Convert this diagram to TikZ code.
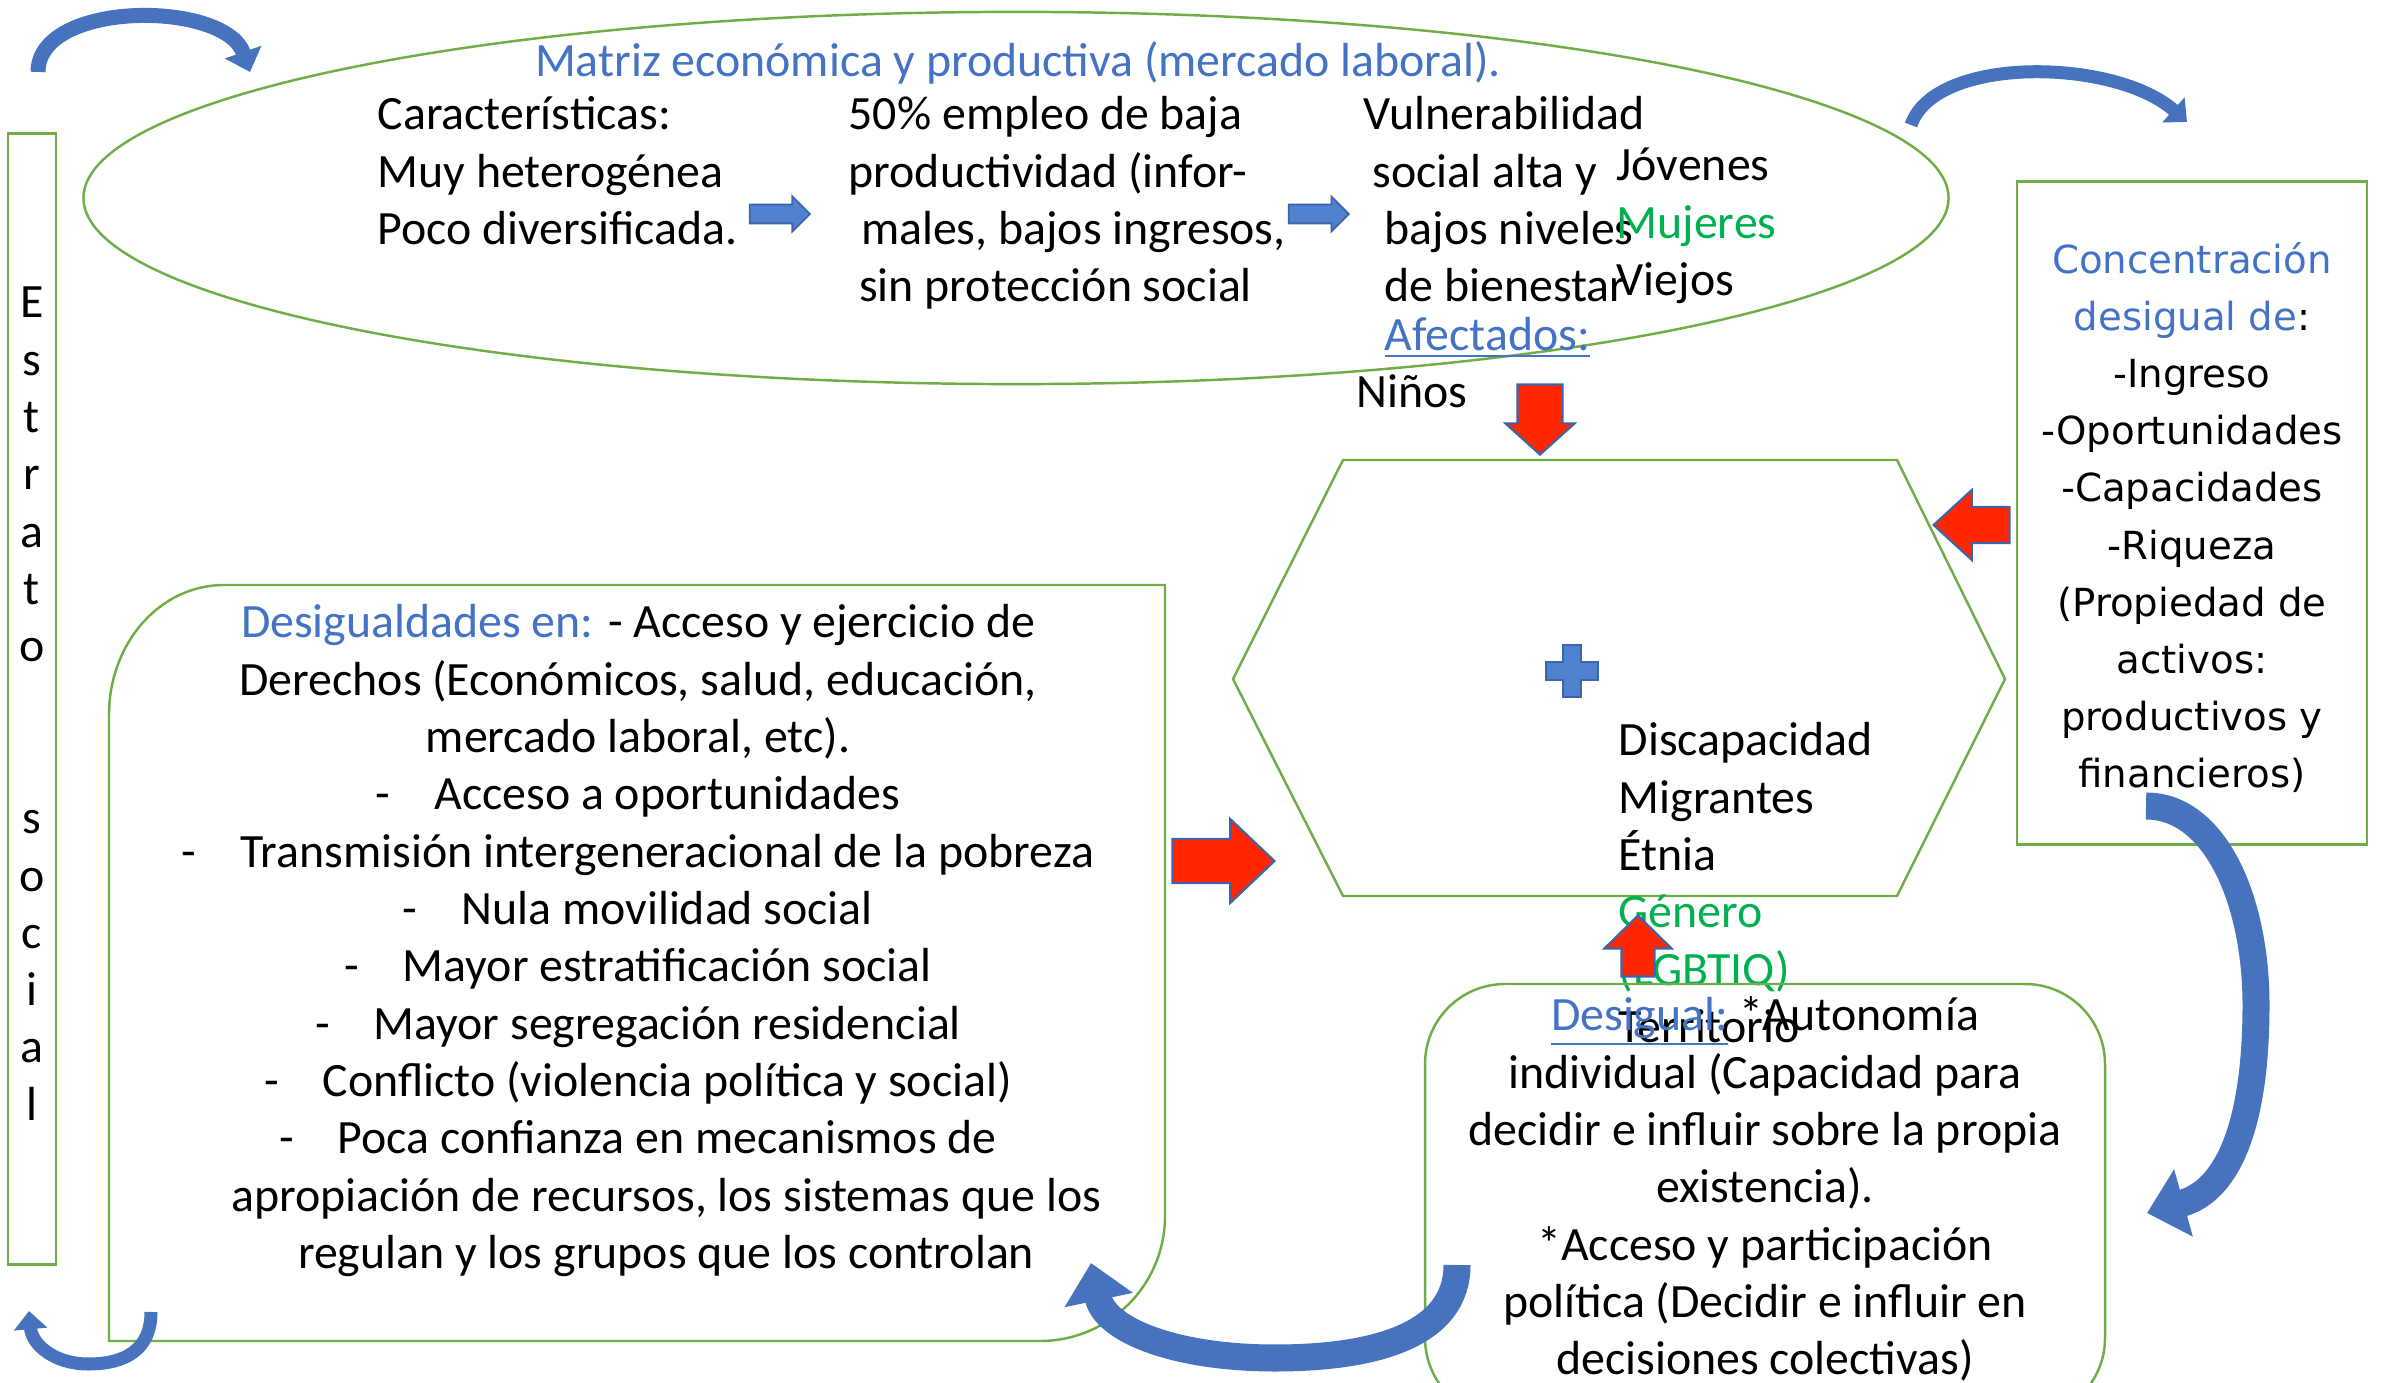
\documentclass[tikz,border=0pt]{standalone}
\usepackage{fontspec}
\setmainfont{Carlito}
\newfontfamily\concfont{DejaVu Sans}
\usepackage{tikz}
\usetikzlibrary{arrows.meta,shapes.arrows}

\definecolor{linegreen}{RGB}{112,173,71}
\definecolor{txtblue}{RGB}{68,114,196}
\definecolor{txtgreen}{RGB}{0,176,80}
\definecolor{ribbonblue}{RGB}{70,114,190}
\definecolor{arrowred}{RGB}{255,38,0}
\definecolor{arrowedge}{RGB}{61,100,170}
\definecolor{plusblue}{RGB}{79,129,206}

\newcommand{\bodyfont}{\fontsize{13.6}{16.3}\selectfont}

\begin{document}
\begin{tikzpicture}[x=0.01cm, y=-0.01cm,
	every node/.style={inner sep=0pt, font=\bodyfont},
	greenline/.style={draw=linegreen, line width=0.7pt},
	bluearrow/.style={single arrow, draw=arrowedge, fill=plusblue, line width=0.5pt, anchor=tip, inner xsep=0pt, inner ysep=0.085cm, minimum height=0.6cm, single arrow head extend=0.08cm, single arrow tip angle=90},
	redarrow/.style={single arrow, draw=arrowedge, fill=arrowred, line width=0.6pt, inner xsep=0pt},
	ribbon/.style={draw=ribbonblue, line width=#1, -{Triangle[width=0pt 2.5, length=0pt 1.4]}}]
	\useasboundingbox (0,0) rectangle (2382,1383);
	\clip (0,0) rectangle (2382,1383);

	\draw [greenline] (1016,198) ellipse [x radius=9.32cm, y radius=1.86cm];
	\node [anchor=north, text=txtblue] (matriz) at (1018,36) {\strut Matriz económica y productiva (mercado laboral).};
	\node [anchor=north west, align=left] (caract) at (377,89) {\strut Características:\\Muy heterogénea\\Poco diversificada.};
	\node [anchor=north west, align=left] (empleo) at (848,89) {\strut 50\% empleo de baja\\productividad (infor-\\\hspace*{3.5pt}males, bajos ingresos,\\\hspace*{3pt}sin protección social};
	\node [anchor=north west, align=left] (vulner) at (1363,89) {\strut Vulnerabilidad\\\hspace*{2.5pt}social alta y\\\hspace*{6pt}bajos niveles\\\hspace*{6pt}de bienestar};
	\node [anchor=north west, align=left] (grupos) at (1616,140) {\strut Jóvenes\\\textcolor{txtgreen}{Mujeres}\\Viejos};
	\node [anchor=north west, text=txtblue] (afect) at (1384,310) {\strut\underline{Afectados:}};
	\node [anchor=north west] (ninos) at (1356,367) {\strut Niños};
	\node [bluearrow] (flecha1) at (811,214) {};
	\node [bluearrow] (flecha2) at (1350,214) {};

	\node [greenline, minimum width=0.48cm, minimum height=11.3cm, align=center] (estrato) at (32,699) {\strut E\\s\\t\\r\\a\\t\\o\\~\\~\\s\\o\\c\\i\\a\\l};

	\draw [greenline] (224,585) -- (1165,585) -- (1165,1216) .. controls (1165,1285) and (1109,1341) .. (1040,1341) -- (109,1341) -- (109,715) .. controls (109,643) and (160,585) .. cycle;
	\node [anchor=north, align=center] (desig) at (638,597) {\strut\textcolor{txtblue}{Desigualdades en:} - Acceso y ejercicio de\\Derechos (Económicos, salud, educación,\\mercado laboral, etc).\\-\hspace{12.5pt}Acceso a oportunidades\\-\hspace{12.5pt}Transmisión intergeneracional de la pobreza\\-\hspace{12.5pt}Nula movilidad social\\-\hspace{12.5pt}Mayor estratificación social\\-\hspace{12.5pt}Mayor segregación residencial\\-\hspace{12.5pt}Conflicto (violencia política y social)\\-\hspace{12.5pt}Poca confianza en mecanismos de\\\hspace*{16pt}apropiación de recursos, los sistemas que los\\\hspace*{16pt}regulan y los grupos que los controlan};

	\draw [greenline] (1343,460) -- (1897,460) -- (2005,679) -- (1897,896) -- (1343,896) -- (1233,679) -- cycle;
	\draw [draw=arrowedge, fill=plusblue, line width=0.5pt] (1563,645) -- (1581,645) -- (1581,662) -- (1598,662) -- (1598,680) -- (1581,680) -- (1581,697) -- (1563,697) -- (1563,680) -- (1546,680) -- (1546,662) -- (1563,662) -- cycle;
	\node [anchor=north west, align=left] (factores) at (1618,715) {\strut Discapacidad\\Migrantes\\Étnia\\\textcolor{txtgreen}{Género}\\\textcolor{txtgreen}{(LGBTIQ)}\\Territorio};

	\node [greenline, minimum width=3.5cm, minimum height=6.63cm, align=center, font=\concfont\fontsize{11}{16.25}\selectfont] (concentra) at (2192,513) {\strut\textcolor{txtblue}{Concentración}\\\textcolor{txtblue}{desigual de}:\\-Ingreso\\-Oportunidades\\-Capacidades\\-Riqueza\\(Propiedad de\\activos:\\productivos y\\financieros)};

	\draw [greenline, rounded corners=0.8cm] (1425,984) rectangle (2105,1418);
	\node [anchor=north, align=center] (autonomia) at (1765,990) {\strut\textcolor{txtblue}{\underline{Desigual:}} *Autonomía\\individual (Capacidad para\\decidir e influir sobre la propia\\existencia).\\{*}Acceso y participación\\política (Decidir e influir en\\decisiones colectivas)};

	\node [redarrow, rotate=270, anchor=tip, inner ysep=0.215cm, minimum height=0.7cm, single arrow head extend=0.12cm, single arrow tip angle=96] (bajar) at (1540,456) {};
	\node [redarrow, rotate=180, anchor=tip, inner ysep=0.17cm, minimum height=0.76cm, single arrow head extend=0.17cm, single arrow tip angle=85] (izq) at (1932,525) {};
	\node [redarrow, anchor=tip, inner ysep=0.21cm, minimum height=1.02cm, single arrow head extend=0.2cm, single arrow tip angle=87] (der) at (1276,861) {};
	\node [redarrow, rotate=90, anchor=tip, inner ysep=0.155cm, minimum height=0.61cm, single arrow head extend=0.17cm, single arrow tip angle=91] (subir) at (1638,914) {};

	\coordinate (pie1) at (38,72);
	\coordinate (punta1) at (250,72);
	\coordinate (pie2) at (1911,125);
	\coordinate (punta2) at (2187,122);
	\coordinate (pie3) at (2146,806);
	\coordinate (punta3) at (2147,1213);
	\coordinate (pie4) at (1457,1265);
	\coordinate (punta4) at (1091,1263);
	\coordinate (pie5) at (151,1312);
	\coordinate (punta5) at (29,1311);
	\draw [ribbon=0.15cm] (pie1) .. controls (38,0) and (225,0) .. (punta1);
	\draw [ribbon=0.13cm] (pie2) .. controls (1935,55) and (2115,58) .. (punta2);
	\draw [ribbon=0.27cm] (pie3) .. controls (2215,806) and (2256,900) .. (2256,1005) .. controls (2256,1120) and (2230,1190) .. (punta3);
	\draw [ribbon=0.27cm] (pie4) .. controls (1457,1335) and (1375,1358) .. (1275,1358) .. controls (1175,1358) and (1105,1330) .. (punta4);
	\draw [ribbon=0.13cm] (pie5) .. controls (151,1350) and (125,1364) .. (88,1364) .. controls (55,1364) and (32,1345) .. (punta5);
\end{tikzpicture}
\end{document}
